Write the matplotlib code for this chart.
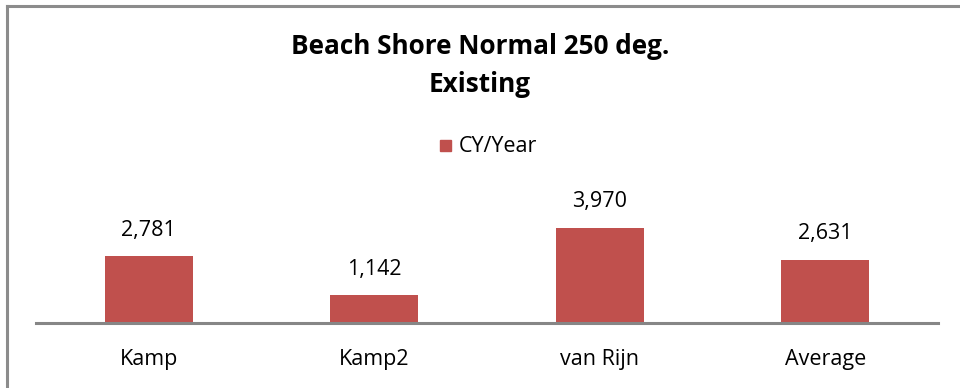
import matplotlib.pyplot as plt
from matplotlib.lines import Line2D

categories = ['Kamp', 'Kamp2', 'van Rijn', 'Average']
cy_per_year = [2781, 1142, 3970, 2631]
series_name = 'CY/Year'

W, H = 960, 388
bar_color = '#C0504D'
axis_gray = '#868686'
label_size = 15.5
title_size = 18.8

plt.rcParams['font.family'] = ['Open Sans', 'DejaVu Sans']

fig = plt.figure(figsize=(W / 100, H / 100), dpi=100)
fig.patch.set_facecolor('white')

# plot area in pixel terms
left, right = 36, 938
base_y, top_y = 322.5, 215
ax = fig.add_axes([left / W, (H - base_y) / H, (right - left) / W, (base_y - top_y) / H])

x = range(len(categories))
bars = ax.bar(x, cy_per_year, width=0.39, color=bar_color, zorder=2)
ax.set_xlim(-0.5, len(categories) - 0.5)
ax.set_ylim(0, 4500)

for rect, v in zip(bars, cy_per_year):
    ax.annotate(f'{v:,}', (rect.get_x() + rect.get_width() / 2, v),
                xytext=(0, 26), textcoords='offset pixels',
                ha='center', va='center', fontsize=label_size, color='#000000')

for s in ['top', 'right', 'left']:
    ax.spines[s].set_visible(False)
ax.spines['bottom'].set_color(axis_gray)
ax.spines['bottom'].set_linewidth(2.2)
ax.set_yticks([])
ax.set_xticks(list(x))
ax.set_xticklabels(categories, fontsize=label_size)
ax.tick_params(axis='x', length=0, pad=19)

# title
fig.text(480 / W, 1 - 47 / H, 'Beach Shore Normal 250 deg.', ha='center', va='center',
         fontsize=title_size, fontweight='bold')
fig.text(480 / W, 1 - 85 / H, 'Existing', ha='center', va='center',
         fontsize=title_size, fontweight='bold')

# legend
fig.add_artist(plt.Rectangle((440 / W, 1 - 151 / H), 11 / W, 11 / H,
                             transform=fig.transFigure, color=bar_color))
fig.text(459 / W, 1 - 146 / H, series_name, ha='left', va='center', fontsize=label_size)

# chart frame (left and top edges)
fig.add_artist(Line2D([7 / W, 7 / W], [0, 1 - 6 / H], transform=fig.transFigure,
                      color='#8C8C8C', linewidth=2.2))
fig.add_artist(Line2D([7 / W, 1], [1 - 6 / H, 1 - 6 / H], transform=fig.transFigure,
                      color='#8C8C8C', linewidth=2.2))

fig.savefig('out.png', dpi=100)
